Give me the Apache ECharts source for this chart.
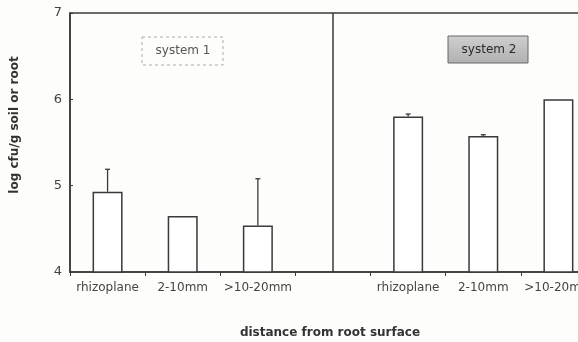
<!DOCTYPE html>
<html>
<head>
<meta charset="utf-8">
<script src="https://cdn.jsdelivr.net/npm/echarts@6/dist/echarts.min.js"></script>
<style>html,body{margin:0;padding:0;background:#fdfdfb;overflow:hidden;}#c{width:600px;height:342px;}</style>
</head>
<body>
<div id="c"></div>
<script>
var categories = ['rhizoplane', '2-10mm', '>10-20mm', '', 'rhizoplane', '2-10mm', '>10-20mm'];
var means = [4.93, 4.65, 4.54, null, 5.80, 5.575, 6.0];
var errTops = [5.19, null, 5.08, null, 5.83, 5.59, null];
var yTicks = [4, 5, 6, 7];
var legendLabels = ['system 1', 'system 2'];
var xTitle = 'distance from root surface';
var yTitle = 'log cfu/g soil or root';

var chart = echarts.init(document.getElementById('c'), null, {renderer: 'canvas'});
var lineColor = '#3a3a3a';
var font = 'DejaVu Sans';
var errData = [];
errTops.forEach(function (t, i) { if (t !== null) errData.push([i, means[i], t]); });

chart.setOption({
  animation: false,
  backgroundColor: '#fdfdfb',
  grid: {left: 70, top: 13, width: 526, height: 259, show: true, borderColor: lineColor, borderWidth: 1.5, backgroundColor: 'transparent'},
  xAxis: {
    type: 'category', data: categories,
    axisLine: {lineStyle: {color: lineColor, width: 1.5}},
    axisTick: {show: true, interval: 0, length: 4, inside: false, lineStyle: {color: lineColor}},
    axisLabel: {interval: 0, color: '#444', fontSize: 12, margin: 10, fontFamily: font},
    splitLine: {show: false}
  },
  yAxis: {
    type: 'value', min: yTicks[0], max: yTicks[yTicks.length - 1], interval: 1,
    axisLine: {show: true, lineStyle: {color: lineColor, width: 1.5}},
    axisTick: {show: true, length: 3, inside: true, lineStyle: {color: lineColor}},
    axisLabel: {color: '#444', fontSize: 13, margin: 8, fontFamily: font},
    splitLine: {show: false}
  },
  series: [
    {
      type: 'bar', data: means.map(function (v) { return v === null ? '-' : v; }),
      barWidth: 30,
      itemStyle: {color: '#ffffff', borderColor: lineColor, borderWidth: 1.5},
      markLine: {
        silent: true, symbol: 'none', label: {show: false},
        lineStyle: {color: lineColor, width: 1.5, type: 'solid'},
        data: [{xAxis: 3}]
      }
    },
    {
      type: 'custom', data: errData,
      renderItem: function (params, api) {
        var x = api.value(0);
        var p0 = api.coord([x, api.value(1)]);
        var p1 = api.coord([x, api.value(2)]);
        var style = {stroke: lineColor, lineWidth: 1.3};
        return {type: 'group', children: [
          {type: 'line', shape: {x1: p0[0], y1: p0[1], x2: p1[0], y2: p1[1]}, style: style},
          {type: 'line', shape: {x1: p1[0] - 2.5, y1: p1[1], x2: p1[0] + 2.5, y2: p1[1]}, style: style}
        ]};
      },
      z: 3
    }
  ],
  graphic: [
    {type: 'rect', shape: {x: 142, y: 37, width: 81, height: 28},
     style: {fill: 'transparent', stroke: '#aaa', lineWidth: 1, lineDash: [3, 3]}},
    {type: 'text', x: 183, y: 51, style: {text: legendLabels[0], fill: '#555', fontSize: 12, fontFamily: font, align: 'center', verticalAlign: 'middle'}},
    {type: 'rect', shape: {x: 448, y: 36, width: 80, height: 27},
     style: {fill: new echarts.graphic.LinearGradient(0, 0, 0, 1, [{offset: 0, color: '#cfcfcf'}, {offset: 1, color: '#b0b0b0'}]), stroke: '#666', lineWidth: 1}},
    {type: 'text', x: 489, y: 50, style: {text: legendLabels[1], fill: '#2a2a2a', fontSize: 12, fontFamily: font, align: 'center', verticalAlign: 'middle'}},
    {type: 'text', x: 15, y: 125, rotation: Math.PI / 2, style: {text: yTitle, fill: '#333', fontSize: 12, fontWeight: 'bold', fontFamily: font, align: 'center', verticalAlign: 'middle'}},
    {type: 'text', x: 330, y: 333, style: {text: xTitle, fill: '#333', fontSize: 12, fontWeight: 'bold', fontFamily: font, align: 'center', verticalAlign: 'middle'}}
  ]
});
</script>
</body>
</html>
